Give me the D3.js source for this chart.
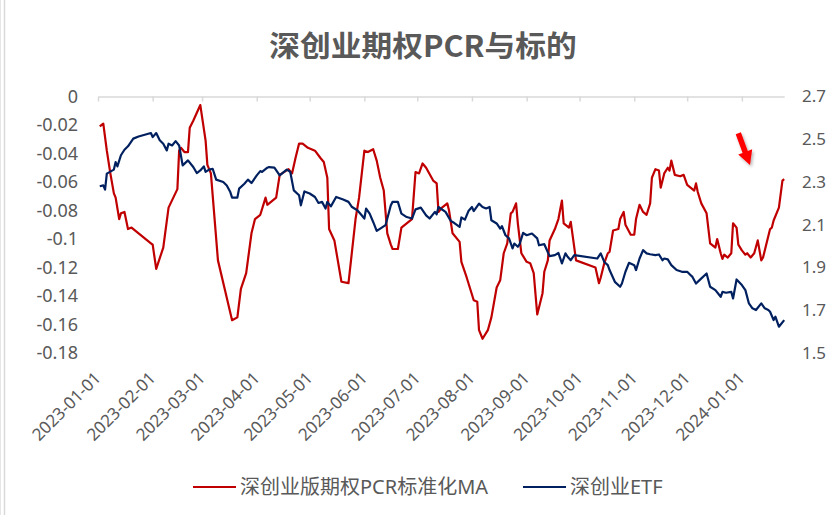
<!DOCTYPE html>
<html>
<head>
<meta charset="utf-8">
<script src="https://cdn.jsdelivr.net/npm/d3@7"></script>
<style>
  html, body { margin: 0; padding: 0; background: #fff; }
  svg { display: block; }
</style>
</head>
<body>
<svg id="chart" width="827" height="515"></svg>
<script>
// ---------------- DATA ----------------
const titleText = "深创业期权PCR与标的";
const pcrName = "深创业版期权PCR标准化MA";
const etfName = "深创业ETF";

const monthTicks = ["2023-01-01","2023-02-01","2023-03-01","2023-04-01","2023-05-01","2023-06-01",
  "2023-07-01","2023-08-01","2023-09-01","2023-10-01","2023-11-01","2023-12-01","2024-01-01"];
const leftTicks = [0, -0.02, -0.04, -0.06, -0.08, -0.1, -0.12, -0.14, -0.16, -0.18];
const rightTicks = [2.7, 2.5, 2.3, 2.1, 1.9, 1.7, 1.5];

const pcrDates = ["2023-01-02","2023-01-04","2023-01-06","2023-01-08","2023-01-10","2023-01-11","2023-01-13","2023-01-14",
  "2023-01-16","2023-01-18","2023-01-20","2023-01-31","2023-02-01","2023-02-03","2023-02-07","2023-02-10","2023-02-15",
  "2023-02-16","2023-02-17","2023-02-19","2023-02-21","2023-02-22","2023-02-24","2023-02-28","2023-03-03","2023-03-04",
  "2023-03-06","2023-03-10","2023-03-14","2023-03-18","2023-03-21","2023-03-23","2023-03-26","2023-03-29","2023-03-31",
  "2023-04-03","2023-04-06","2023-04-07","2023-04-12","2023-04-14","2023-04-19","2023-04-21","2023-04-23","2023-04-25",
  "2023-04-27","2023-04-30","2023-05-04","2023-05-07","2023-05-09","2023-05-11","2023-05-12","2023-05-15","2023-05-19",
  "2023-05-23","2023-05-27","2023-05-29","2023-06-01","2023-06-03","2023-06-06","2023-06-08","2023-06-10","2023-06-12",
  "2023-06-14","2023-06-16","2023-06-17","2023-06-20","2023-06-22","2023-06-28","2023-06-30","2023-07-02","2023-07-04",
  "2023-07-06","2023-07-10","2023-07-12","2023-07-13","2023-07-15","2023-07-18","2023-07-19","2023-07-21","2023-07-25",
  "2023-07-26","2023-07-29","2023-08-02","2023-08-04","2023-08-05","2023-08-07","2023-08-10","2023-08-12","2023-08-15",
  "2023-08-17","2023-08-19","2023-08-21","2023-08-23","2023-08-24","2023-08-26","2023-08-27","2023-08-29","2023-09-01",
  "2023-09-03","2023-09-05","2023-09-07","2023-09-10","2023-09-11","2023-09-13","2023-09-14","2023-09-17","2023-09-19",
  "2023-09-21","2023-09-22","2023-09-25","2023-09-26","2023-09-27","2023-09-29","2023-10-10","2023-10-12","2023-10-13",
  "2023-10-15","2023-10-17","2023-10-18","2023-10-20","2023-10-23","2023-10-24","2023-10-26","2023-10-27","2023-10-30",
  "2023-11-01","2023-11-02","2023-11-04","2023-11-06","2023-11-08","2023-11-10","2023-11-11","2023-11-13","2023-11-15",
  "2023-11-16","2023-11-18","2023-11-20","2023-11-21","2023-11-22","2023-11-24","2023-11-27","2023-11-29","2023-12-01",
  "2023-12-05","2023-12-06","2023-12-07","2023-12-09","2023-12-12","2023-12-14","2023-12-17","2023-12-18","2023-12-20",
  "2023-12-21","2023-12-22","2023-12-24","2023-12-26","2023-12-27","2023-12-29","2023-12-30","2024-01-01","2024-01-03",
  "2024-01-04","2024-01-06","2024-01-08","2024-01-10","2024-01-12","2024-01-13","2024-01-15","2024-01-17","2024-01-18",
  "2024-01-19","2024-01-22","2024-01-24","2024-01-25"];
const pcrValues = [-0.021,-0.019,-0.038,-0.054,-0.068,-0.071,-0.086,-0.082,
  -0.081,-0.093,-0.092,-0.103,-0.104,-0.121,-0.106,-0.078,-0.065,
  -0.038,-0.036,-0.039,-0.039,-0.022,-0.017,-0.006,-0.031,-0.048,
  -0.054,-0.115,-0.136,-0.157,-0.155,-0.135,-0.124,-0.096,-0.086,
  -0.083,-0.071,-0.076,-0.071,-0.055,-0.051,-0.054,-0.043,-0.033,
  -0.033,-0.036,-0.038,-0.043,-0.046,-0.057,-0.093,-0.101,-0.130,
  -0.131,-0.086,-0.071,-0.038,-0.039,-0.037,-0.045,-0.057,-0.066,
  -0.096,-0.104,-0.107,-0.107,-0.092,-0.086,-0.053,-0.054,-0.047,
  -0.050,-0.059,-0.061,-0.081,-0.078,-0.075,-0.080,-0.096,-0.102,
  -0.116,-0.127,-0.143,-0.144,-0.164,-0.170,-0.164,-0.155,-0.134,
  -0.129,-0.110,-0.103,-0.082,-0.081,-0.075,-0.089,-0.110,-0.116,
  -0.117,-0.124,-0.153,-0.138,-0.123,-0.115,-0.101,-0.093,-0.086,
  -0.073,-0.089,-0.092,-0.088,-0.097,-0.115,-0.120,-0.131,-0.127,
  -0.117,-0.110,-0.109,-0.094,-0.093,-0.086,-0.081,-0.090,-0.097,
  -0.097,-0.086,-0.076,-0.081,-0.083,-0.075,-0.057,-0.051,-0.052,
  -0.064,-0.054,-0.050,-0.052,-0.045,-0.055,-0.056,-0.055,-0.062,
  -0.066,-0.061,-0.067,-0.075,-0.082,-0.103,-0.106,-0.100,-0.110,
  -0.114,-0.111,-0.113,-0.110,-0.089,-0.092,-0.104,-0.108,-0.111,
  -0.110,-0.113,-0.110,-0.101,-0.115,-0.113,-0.103,-0.093,-0.092,
  -0.087,-0.078,-0.059,-0.058];

const etfDates = ["2023-01-02","2023-01-04","2023-01-05","2023-01-06","2023-01-10","2023-01-11","2023-01-12","2023-01-14",
  "2023-01-16","2023-01-18","2023-01-21","2023-01-24","2023-01-31","2023-02-01","2023-02-03","2023-02-05","2023-02-07",
  "2023-02-09","2023-02-10","2023-02-12","2023-02-14","2023-02-16","2023-02-18","2023-02-21","2023-02-24","2023-02-26",
  "2023-02-28","2023-03-02","2023-03-03","2023-03-05","2023-03-07","2023-03-09","2023-03-13","2023-03-15","2023-03-17",
  "2023-03-18","2023-03-21","2023-03-22","2023-03-25","2023-03-27","2023-03-29","2023-04-01","2023-04-03","2023-04-04",
  "2023-04-07","2023-04-08","2023-04-11","2023-04-14","2023-04-18","2023-04-20","2023-04-22","2023-04-25","2023-04-26",
  "2023-04-28","2023-05-01","2023-05-04","2023-05-06","2023-05-08","2023-05-10","2023-05-11","2023-05-13","2023-05-16",
  "2023-05-20","2023-05-23","2023-05-25","2023-05-28","2023-05-30","2023-06-01","2023-06-02","2023-06-04","2023-06-06",
  "2023-06-08","2023-06-10","2023-06-13","2023-06-16","2023-06-17","2023-06-20","2023-06-22","2023-06-25","2023-06-28",
  "2023-06-30","2023-07-03","2023-07-06","2023-07-08","2023-07-11","2023-07-12","2023-07-13","2023-07-17","2023-07-20",
  "2023-07-22","2023-07-25","2023-07-26","2023-07-28","2023-07-30","2023-08-01","2023-08-02","2023-08-05","2023-08-07",
  "2023-08-09","2023-08-11","2023-08-12","2023-08-15","2023-08-17","2023-08-18","2023-08-20","2023-08-22","2023-08-24",
  "2023-08-25","2023-08-27","2023-08-28","2023-08-30","2023-09-01","2023-09-04","2023-09-07","2023-09-08","2023-09-11",
  "2023-09-14","2023-09-17","2023-09-19","2023-09-21","2023-09-23","2023-09-24","2023-09-26","2023-09-28","2023-10-11",
  "2023-10-13","2023-10-15","2023-10-17","2023-10-18","2023-10-21","2023-10-24","2023-10-25","2023-10-27","2023-10-29",
  "2023-11-01","2023-11-02","2023-11-04","2023-11-06","2023-11-08","2023-11-10","2023-11-13","2023-11-15","2023-11-17",
  "2023-11-18","2023-11-20","2023-11-22","2023-11-25","2023-11-28","2023-12-01","2023-12-03","2023-12-04","2023-12-06",
  "2023-12-08","2023-12-12","2023-12-14","2023-12-17","2023-12-20","2023-12-21","2023-12-23","2023-12-26","2023-12-27",
  "2023-12-29","2024-01-01","2024-01-03","2024-01-05","2024-01-07","2024-01-09","2024-01-12","2024-01-14","2024-01-16",
  "2024-01-17","2024-01-19","2024-01-20","2024-01-22","2024-01-25"];
const etfValues = [2.280,2.284,2.264,2.339,2.358,2.393,2.373,2.425,
  2.451,2.467,2.503,2.513,2.529,2.510,2.529,2.495,2.479,
  2.448,2.479,2.471,2.491,2.471,2.378,2.401,2.370,2.342,
  2.354,2.373,2.347,2.358,2.362,2.311,2.300,2.284,2.253,
  2.227,2.227,2.269,2.292,2.311,2.295,2.331,2.351,2.347,
  2.367,2.370,2.367,2.331,2.358,2.347,2.261,2.238,2.191,
  2.256,2.246,2.230,2.202,2.207,2.176,2.207,2.186,2.230,
  2.218,2.207,2.183,2.168,2.149,2.129,2.176,2.152,2.113,
  2.071,2.082,2.098,2.191,2.207,2.207,2.152,2.136,2.129,
  2.172,2.180,2.144,2.129,2.160,2.149,2.183,2.160,2.118,
  2.108,2.090,2.134,2.124,2.164,2.183,2.164,2.199,2.183,
  2.176,2.183,2.121,2.106,2.082,2.093,2.051,2.036,1.989,
  2.012,1.997,2.009,2.062,2.051,2.059,2.036,2.004,2.009,
  1.953,1.958,1.968,1.919,1.966,1.953,1.934,1.958,1.942,
  1.966,1.926,1.911,1.888,1.833,1.810,1.825,1.880,1.922,
  1.911,1.888,1.942,1.981,1.966,1.962,1.958,1.961,1.934,
  1.942,1.938,1.911,1.888,1.880,1.880,1.864,1.856,1.825,
  1.841,1.872,1.810,1.794,1.763,1.786,1.782,1.786,1.755,
  1.844,1.818,1.794,1.732,1.709,1.701,1.732,1.709,1.701,
  1.693,1.654,1.670,1.623,1.654];

// ---------------- CHART ----------------
const parse = d3.utcParse("%Y-%m-%d");
const svg = d3.select("#chart");
const textColor = "#595959";
const redColor = "#c00000";
const blueColor = "#002060";

const x = d3.scaleUtc().domain([parse("2023-01-01"), parse("2024-01-25")]).range([98, 784.2]);
const yL = d3.scaleLinear().domain([-0.18, 0]).range([353, 96.5]);
const yR = d3.scaleLinear().domain([1.5, 2.7]).range([353, 96.5]);

// chart border (left edge)
svg.append("line").attr("x1", 4.5).attr("x2", 4.5).attr("y1", 0).attr("y2", 515)
  .attr("stroke", "#d9d9d9").attr("stroke-width", 1.5);
svg.append("line").attr("x1", 0.5).attr("x2", 0.5).attr("y1", 0).attr("y2", 515)
  .attr("stroke", "#e6e6e6").attr("stroke-width", 1);

// title
svg.append("text")
  .attr("transform", "translate(423,57) scale(1.06,1)")
  .attr("text-anchor", "middle")
  .attr("font-family", "'Noto Sans CJK SC', 'Noto Sans', sans-serif")
  .attr("font-weight", "bold")
  .attr("font-size", 29)
  .attr("fill", textColor)
  .text(titleText);

// top category axis line with ticks pointing down
const xAxisG = svg.append("g").attr("transform", "translate(0,96.5)")
  .call(d3.axisTop(x).tickValues(monthTicks.map(parse)).tickSizeInner(-5).tickSizeOuter(0).tickFormat(""));
xAxisG.select(".domain").attr("stroke", "#d9d9d9").attr("stroke-width", 1.5);
xAxisG.selectAll(".tick line").attr("stroke", "#d9d9d9").attr("stroke-width", 1.5);

// x labels at bottom, rotated
svg.append("g").selectAll("text").data(monthTicks).join("text")
  .attr("transform", d => `translate(${x(parse(d)) + 4},379) rotate(-45)`)
  .attr("text-anchor", "end")
  .attr("font-family", "'Noto Sans', sans-serif")
  .attr("font-size", 17)
  .attr("fill", textColor)
  .text(d => d);

// left axis
const fmtL = d => d === 0 ? "0" : String(+d.toFixed(2));
const leftG = svg.append("g").attr("transform", "translate(86,0)")
  .call(d3.axisLeft(yL).tickValues(leftTicks).tickSize(0).tickPadding(8).tickFormat(fmtL));
leftG.select(".domain").remove();
leftG.selectAll("text").attr("font-family", "'Noto Sans', sans-serif").attr("font-size", 18).attr("fill", textColor);

// right axis
const rightG = svg.append("g").attr("transform", "translate(795,0)")
  .call(d3.axisRight(yR).tickValues(rightTicks).tickSize(0).tickPadding(7).tickFormat(d3.format(".1f")));
rightG.select(".domain").remove();
rightG.selectAll("text").attr("font-family", "'Noto Sans', sans-serif").attr("font-size", 17).attr("fill", textColor);

// lines
const pcrData = pcrDates.map((d, i) => ({ date: parse(d), value: pcrValues[i] }));
const etfData = etfDates.map((d, i) => ({ date: parse(d), value: etfValues[i] }));

svg.append("path").datum(pcrData)
  .attr("fill", "none").attr("stroke", redColor).attr("stroke-width", 2.2).attr("stroke-linejoin", "round")
  .attr("d", d3.line().x(d => x(d.date)).y(d => yL(d.value)));

svg.append("path").datum(etfData)
  .attr("fill", "none").attr("stroke", blueColor).attr("stroke-width", 2.2).attr("stroke-linejoin", "round")
  .attr("d", d3.line().x(d => x(d.date)).y(d => yR(d.value)));

// red arrow annotation
const defs = svg.append("defs");
const f = defs.append("filter").attr("id", "shadow").attr("x", "-50%").attr("y", "-50%").attr("width", "200%").attr("height", "200%");
f.append("feDropShadow").attr("dx", 1.5).attr("dy", 2).attr("stdDeviation", 1.5).attr("flood-color", "#000").attr("flood-opacity", 0.3);
svg.append("polygon")
  .attr("points", "740.9,132.3 747.8,150.9 752.2,149.3 750,165 738.2,154.5 742.6,152.9 735.7,134.3")
  .attr("fill", "#ff0000").attr("filter", "url(#shadow)");

// legend
const legend = svg.append("g").attr("font-family", "'Noto Sans', 'Noto Sans CJK SC', sans-serif").attr("font-size", 20).attr("fill", textColor);
const legendItems = [
  { name: pcrName, color: redColor, x: 193 },
  { name: etfName, color: blueColor, x: 523 }
];
legendItems.forEach(it => {
  legend.append("line").attr("x1", it.x).attr("x2", it.x + 43).attr("y1", 487).attr("y2", 487)
    .attr("stroke", it.color).attr("stroke-width", 2.2);
  legend.append("text").attr("x", it.x + 47).attr("y", 494).text(it.name);
});
</script>
</body>
</html>
